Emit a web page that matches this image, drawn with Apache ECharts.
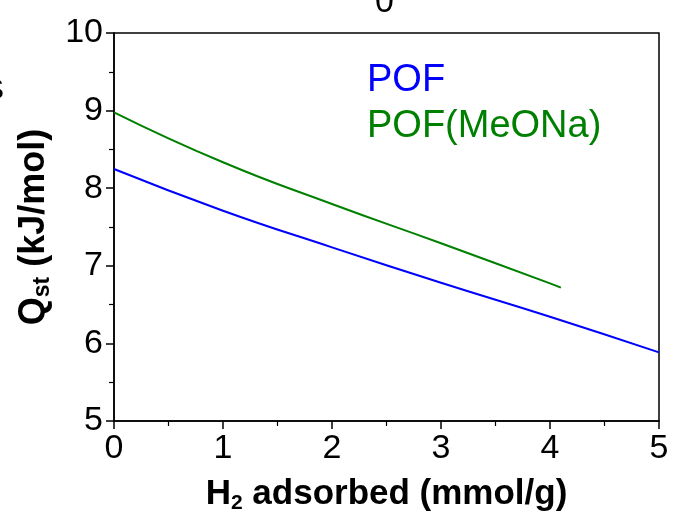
<!DOCTYPE html>
<html>
<head>
<meta charset="utf-8">
<script src="https://cdn.jsdelivr.net/npm/echarts@6/dist/echarts.min.js"></script>
<style>html,body{margin:0;padding:0;background:#fff}#c{width:673px;height:516px}</style>
</head>
<body>
<div id="c"></div>
<script>
// Data
var pofX = [0, 1, 2, 3, 4, 5];
var pofY = [8.247, 7.71, 7.238, 6.782, 6.344, 5.885];
var meonaX = [0, 1, 2, 3, 4, 4.1];
var meonaY = [8.978, 8.334, 7.796, 7.29, 6.774, 6.718];
var seriesNames = ['POF', 'POF(MeONa)'];
var xTicks = [0, 1, 2, 3, 4, 5];
var yTicks = [5, 6, 7, 8, 9, 10];

function pairs(xs, ys) { return xs.map(function (x, i) { return [x, ys[i]]; }); }

var FONT = '"Liberation Sans", Arial, sans-serif';
var chart = echarts.init(document.getElementById('c'), null, {renderer: 'canvas'});
chart.setOption({
  animation: false,
  backgroundColor: '#fff',
  grid: {left: 114, right: 14, top: 33, bottom: 95, containLabel: false, outerBoundsMode: 'none',
         show: true, borderColor: '#000', borderWidth: 1.5, backgroundColor: 'transparent'},
  legend: {
    orient: 'vertical', left: 357, top: 57, itemGap: 8, icon: 'none', itemWidth: 0, itemHeight: 0,
    selectedMode: false,
    data: [
      {name: seriesNames[0], textStyle: {color: '#0000ff'}},
      {name: seriesNames[1], textStyle: {color: '#008000'}}
    ],
    textStyle: {fontFamily: FONT, fontSize: 38, padding: 0}
  },
  xAxis: {
    type: 'value', min: xTicks[0], max: xTicks[xTicks.length - 1], interval: 1,
    axisLine: {lineStyle: {color: '#000', width: 1.5}},
    axisTick: {show: true, inside: false, length: 8, lineStyle: {color: '#000', width: 1.5}},
    minorTick: {show: true, splitNumber: 2, length: 5, lineStyle: {color: '#000', width: 1.2}},
    splitLine: {show: false},
    axisLabel: {color: '#000', fontFamily: FONT, fontSize: 34, margin: 11},
    name: '{b|H}{sub|2}{b| adsorbed (mmol/g)}',
    nameLocation: 'middle', nameGap: 53,
    nameTextStyle: {
      rich: {
        b: {fontFamily: FONT, fontWeight: 'bold', fontSize: 35, color: '#000', lineHeight: 40},
        sub: {fontFamily: FONT, fontWeight: 'bold', fontSize: 21, color: '#000', lineHeight: 40, verticalAlign: 'bottom', padding: [16, 0, 0, 0]}
      }
    }
  },
  yAxis: {
    type: 'value', min: yTicks[0], max: yTicks[yTicks.length - 1], interval: 1,
    axisLine: {lineStyle: {color: '#000', width: 1.5}},
    axisTick: {show: true, inside: false, length: 8, lineStyle: {color: '#000', width: 1.5}},
    minorTick: {show: true, splitNumber: 2, length: 5, lineStyle: {color: '#000', width: 1.2}},
    splitLine: {show: false},
    axisLabel: {color: '#000', fontFamily: FONT, fontSize: 34, margin: 11},
    name: '{b|Q}{sub|st}{b| (kJ/mol)}',
    nameLocation: 'middle', nameGap: 58, nameRotate: 90,
    nameTextStyle: {
      rich: {
        b: {fontFamily: FONT, fontWeight: 'bold', fontSize: 36, color: '#000', lineHeight: 40},
        sub: {fontFamily: FONT, fontWeight: 'bold', fontSize: 23, color: '#000', lineHeight: 40, verticalAlign: 'bottom', padding: [18, 0, 0, 0]}
      }
    }
  },
  graphic: [
    {type: 'text', left: 375, top: -14, style: {text: '0', fontFamily: FONT, fontSize: 34, fill: '#000'}, silent: true},
    {type: 'text', left: -16, top: 76, style: {text: 'S', fontFamily: FONT, fontSize: 30, fill: '#000'}, silent: true}
  ],
  series: [
    {name: seriesNames[0], type: 'line', data: pairs(pofX, pofY), smooth: true, showSymbol: false,
     lineStyle: {color: '#0000ff', width: 2}, itemStyle: {color: '#0000ff'}},
    {name: seriesNames[1], type: 'line', data: pairs(meonaX, meonaY), smooth: true, showSymbol: false,
     lineStyle: {color: '#008000', width: 2}, itemStyle: {color: '#008000'}}
  ]
});
</script>
</body>
</html>
